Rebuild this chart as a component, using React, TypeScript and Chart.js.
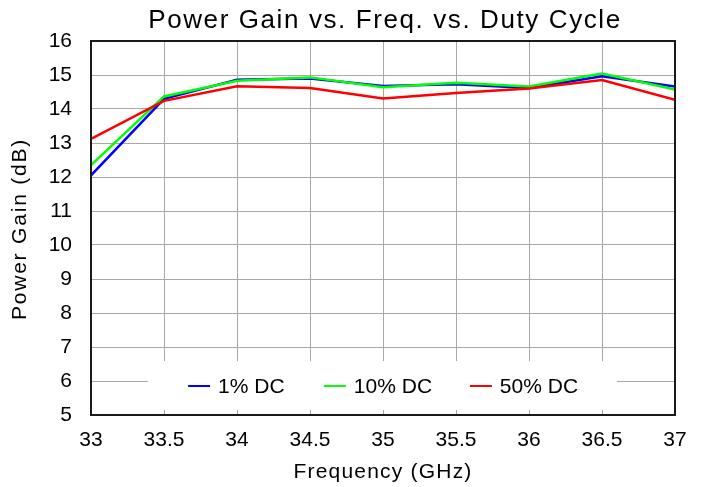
import React, { useEffect, useRef } from "react";
import { Chart, registerables } from "chart.js";

Chart.register(...registerables);

const frequencies = [33, 33.5, 34, 34.5, 35, 35.5, 36, 36.5, 37];
const dc1 = [12.05, 14.3, 14.86, 14.9, 14.68, 14.73, 14.62, 14.96, 14.66];
const dc10 = [12.35, 14.37, 14.83, 14.93, 14.64, 14.77, 14.66, 15.04, 14.57];
const dc50 = [13.12, 14.24, 14.67, 14.62, 14.31, 14.47, 14.6, 14.85, 14.27];
const seriesLabels = ["1% DC", "10% DC", "50% DC"];
const seriesColors = ["#0000ff", "#00ff00", "#ff0000"];
const titleText = "Power Gain vs. Freq. vs. Duty Cycle";
const xTitle = "Frequency (GHz)";
const yTitle = "Power Gain (dB)";

const FONT = "'Liberation Sans', Arial, sans-serif";

function spaced(ctx: any, sp: number) {
  try {
    ctx.letterSpacing = sp + "px";
  } catch (e) {}
}

const framePlugin = {
  id: "frame",
  beforeDatasetsDraw(chart: any) {
    const { ctx, chartArea } = chart;
    const { bottom } = chartArea;
    const xs = chart.scales.x;
    const boxL = xs.getPixelForValue(33.39);
    const boxR = xs.getPixelForValue(36.98) - 55;
    ctx.save();
    ctx.fillStyle = "#ffffff";
    ctx.fillRect(boxL, bottom - 54, boxR - boxL, 50);
    ctx.strokeStyle = "#a8a8a8";
    ctx.lineWidth = 1;
    xs.ticks.forEach((t: any) => {
      const px = Math.round(xs.getPixelForValue(t.value)) + 0.5;
      ctx.beginPath();
      ctx.moveTo(px, bottom - 5);
      ctx.lineTo(px, bottom);
      ctx.stroke();
    });
    const itemX = [
      xs.getPixelForValue(33.665),
      xs.getPixelForValue(34.595),
      xs.getPixelForValue(35.595),
    ];
    const cy = bottom - 29;
    ctx.font = "21px " + FONT;
    ctx.textBaseline = "middle";
    ctx.textAlign = "left";
    seriesLabels.forEach((lab, i) => {
      ctx.strokeStyle = seriesColors[i];
      ctx.lineWidth = 2;
      ctx.beginPath();
      ctx.moveTo(itemX[i], cy);
      ctx.lineTo(itemX[i] + 22, cy);
      ctx.stroke();
      ctx.fillStyle = "#000000";
      ctx.fillText(lab, itemX[i] + 30, cy + 1);
    });
    ctx.restore();
  },
  afterDraw(chart: any) {
    const { ctx, chartArea } = chart;
    const { left, right, top, bottom } = chartArea;
    const cx = (left + right) / 2;
    ctx.save();
    ctx.strokeStyle = "#1a1a1a";
    ctx.lineWidth = 2;
    ctx.strokeRect(left, top, right - left, bottom - top);
    ctx.fillStyle = "#000000";
    ctx.textAlign = "center";
    ctx.textBaseline = "alphabetic";
    // chart title
    ctx.font = "26px " + FONT;
    spaced(ctx, 1.6);
    ctx.fillText(titleText, cx + 2, 28);
    // x axis title
    ctx.font = "21px " + FONT;
    spaced(ctx, 1.2);
    ctx.fillText(xTitle, cx, 478);
    // y axis title
    spaced(ctx, 1.8);
    ctx.translate(26, (top + bottom) / 2 + 1);
    ctx.rotate(-Math.PI / 2);
    ctx.fillText(yTitle, 0, 0);
    spaced(ctx, 0);
    ctx.restore();
  },
};

export default function App() {
  const ref = useRef<HTMLCanvasElement | null>(null);
  useEffect(() => {
    if (!ref.current) return;
    const mk = (vals: number[]) => frequencies.map((f, i) => ({ x: f, y: vals[i] }));
    const all = [dc1, dc10, dc50];
    const chart = new Chart(ref.current, {
      type: "line",
      data: {
        datasets: all.map((vals, i) => ({
          label: seriesLabels[i],
          data: mk(vals),
          borderColor: seriesColors[i],
          backgroundColor: seriesColors[i],
          borderWidth: 2.5,
          pointRadius: 0,
          tension: 0,
          fill: false,
          order: 3 - i,
        })),
      },
      options: {
        animation: false,
        responsive: false,
        layout: { padding: { top: 41, right: 28, left: 0, bottom: 0 } },
        plugins: {
          legend: { display: false },
          title: { display: false },
          tooltip: { enabled: false },
        },
        scales: {
          x: {
            type: "linear",
            min: 33,
            max: 37,
            afterFit: (s: any) => {
              s.height = 72;
            },
            ticks: {
              stepSize: 0.5,
              color: "#000",
              padding: 13,
              maxRotation: 0,
              font: { size: 21, family: FONT },
              callback: (v: any) => String(v),
            },
            grid: { color: "#a8a8a8", lineWidth: 1, drawTicks: false },
            border: { display: false },
          },
          y: {
            min: 5,
            max: 16,
            afterFit: (s: any) => {
              s.width = 91;
            },
            ticks: {
              stepSize: 1,
              color: "#000",
              padding: 19,
              font: { size: 21, family: FONT },
            },
            grid: { color: "#a8a8a8", lineWidth: 1, drawTicks: false },
            border: { display: false },
          },
        },
      },
      plugins: [framePlugin],
    });
    return () => chart.destroy();
  }, []);
  return (
    <div style={{ position: "absolute", left: 0, top: 0, width: 703, height: 487, background: "#fff" }}>
      <canvas ref={ref} width={703} height={487} style={{ display: "block" }} />
    </div>
  );
}
